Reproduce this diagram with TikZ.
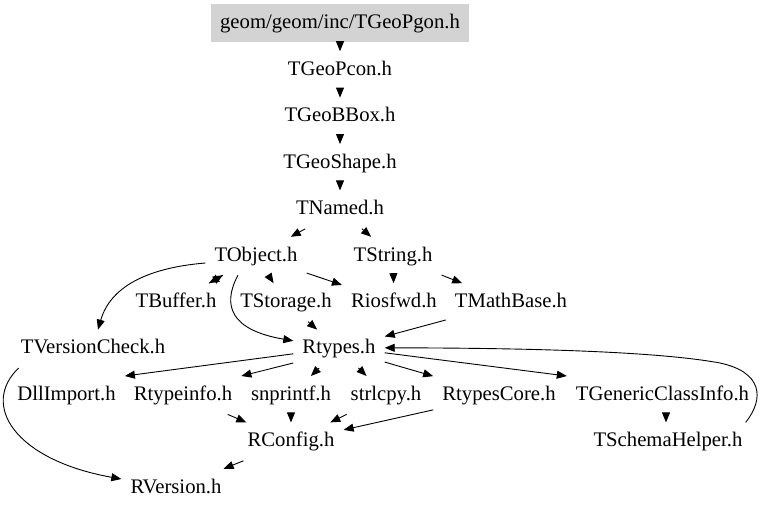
\documentclass[tikz,border=0pt]{standalone}
\usepackage{fontspec}
\setmainfont{Liberation Serif}
\usetikzlibrary{arrows.meta}
\definecolor{boxgray}{RGB}{211,211,211}
\begin{document}
\begin{tikzpicture}[x=1pt,y=-1pt,
  hdr/.style={inner xsep=9pt, inner ysep=0pt, text height=14.5pt, text depth=4.5pt,
    minimum height=38pt, font=\fontsize{20.7}{24}\selectfont},
  root/.style={hdr, fill=boxgray},
  arr/.style={line width=0.9pt, -{Triangle[length=10pt,width=8pt]}}]
\useasboundingbox (0,0) rectangle (768,512);
\fill[white] (0,0) rectangle (768,512);
% nodes
\node[root] (pgon) at (340,23) {geom/geom/inc/TGeoPgon.h};
\node[hdr] (pcon) at (340,70.4) {TGeoPcon.h};
\node[hdr] (bbox) at (340,116.8) {TGeoBBox.h};
\node[hdr] (shape) at (340,163.2) {TGeoShape.h};
\node[hdr] (named) at (340,209.6) {TNamed.h};
\node[hdr] (object) at (256,256) {TObject.h};
\node[hdr] (string) at (393,256) {TString.h};
\node[hdr] (buffer) at (176,302.4) {TBuffer.h};
\node[hdr] (storage) at (286,302.4) {TStorage.h};
\node[hdr] (riosfwd) at (394,302.4) {Riosfwd.h};
\node[hdr] (mathbase) at (511,302.4) {TMathBase.h};
\node[hdr] (vcheck) at (93,348.8) {TVersionCheck.h};
\node[hdr] (rtypes) at (339,348.8) {Rtypes.h};
\node[hdr] (dll) at (66.5,395.2) {DllImport.h};
\node[hdr] (rtinfo) at (183,395.2) {Rtypeinfo.h};
\node[hdr] (snprintf) at (291,395.2) {snprintf.h};
\node[hdr] (strlcpy) at (386,395.2) {strlcpy.h};
\node[hdr] (rcore) at (499,395.2) {RtypesCore.h};
\node[hdr] (gci) at (662.5,395.2) {TGenericClassInfo.h};
\node[hdr] (rconfig) at (291,441.6) {RConfig.h};
\node[hdr] (schema) at (668,441.6) {TSchemaHelper.h};
\node[hdr] (rversion) at (176,488) {RVersion.h};
% edges
\draw[arr] (pgon) -- (pcon);
\draw[arr] (pcon) -- (bbox);
\draw[arr] (bbox) -- (shape);
\draw[arr] (shape) -- (named);
\draw[arr] (named) -- (object);
\draw[arr] (named) -- (string);
\draw[arr] (object) -- (buffer);
\draw[arr] (buffer) -- (object);
\draw[arr] (object) -- (storage);
\draw[arr] (object) -- (riosfwd);
\draw[arr] ([xshift=-18pt]object.south) .. controls (222,305) and (230,330) .. ([yshift=8pt]rtypes.west);
\draw[arr] ([yshift=-7pt]object.west) .. controls (145,268) and (110,288) .. ([xshift=5pt]vcheck.north);
\draw[arr] (string) -- (riosfwd);
\draw[arr] (string) -- (mathbase);
\draw[arr] (storage) -- (rtypes);
\draw[arr] (mathbase) -- (rtypes);
\draw[arr] ([yshift=-5pt]rtypes.west) -- (dll.north east);
\draw[arr] ([yshift=5pt]rtypes.south west) -- (rtinfo.north east);
\draw[arr] (rtypes) -- (snprintf);
\draw[arr] (rtypes) -- (strlcpy);
\draw[arr] (rtypes) -- (rcore);
\draw[arr] ([yshift=-4pt]rtypes.east) -- (gci.north west);
\draw[arr] (rtinfo) -- (rconfig);
\draw[arr] (snprintf) -- (rconfig);
\draw[arr] (strlcpy) -- (rconfig);
\draw[arr] (rcore) -- (rconfig);
\draw[arr] ([xshift=3.5pt]gci.south) -- ([xshift=-2pt]schema.north);
\draw[arr] ([xshift=-6pt]schema.north east) .. controls (765,398) and (762,372) .. (720,363)
   .. controls (650,350) and (500,348) .. ([yshift=1pt]rtypes.east);
\draw[arr] (rconfig) -- (rversion);
\draw[arr] (vcheck.south west) ++(7pt,0) .. controls (-20,405) and (15,460) .. ([yshift=9pt]rversion.west);
\end{tikzpicture}
\end{document}
